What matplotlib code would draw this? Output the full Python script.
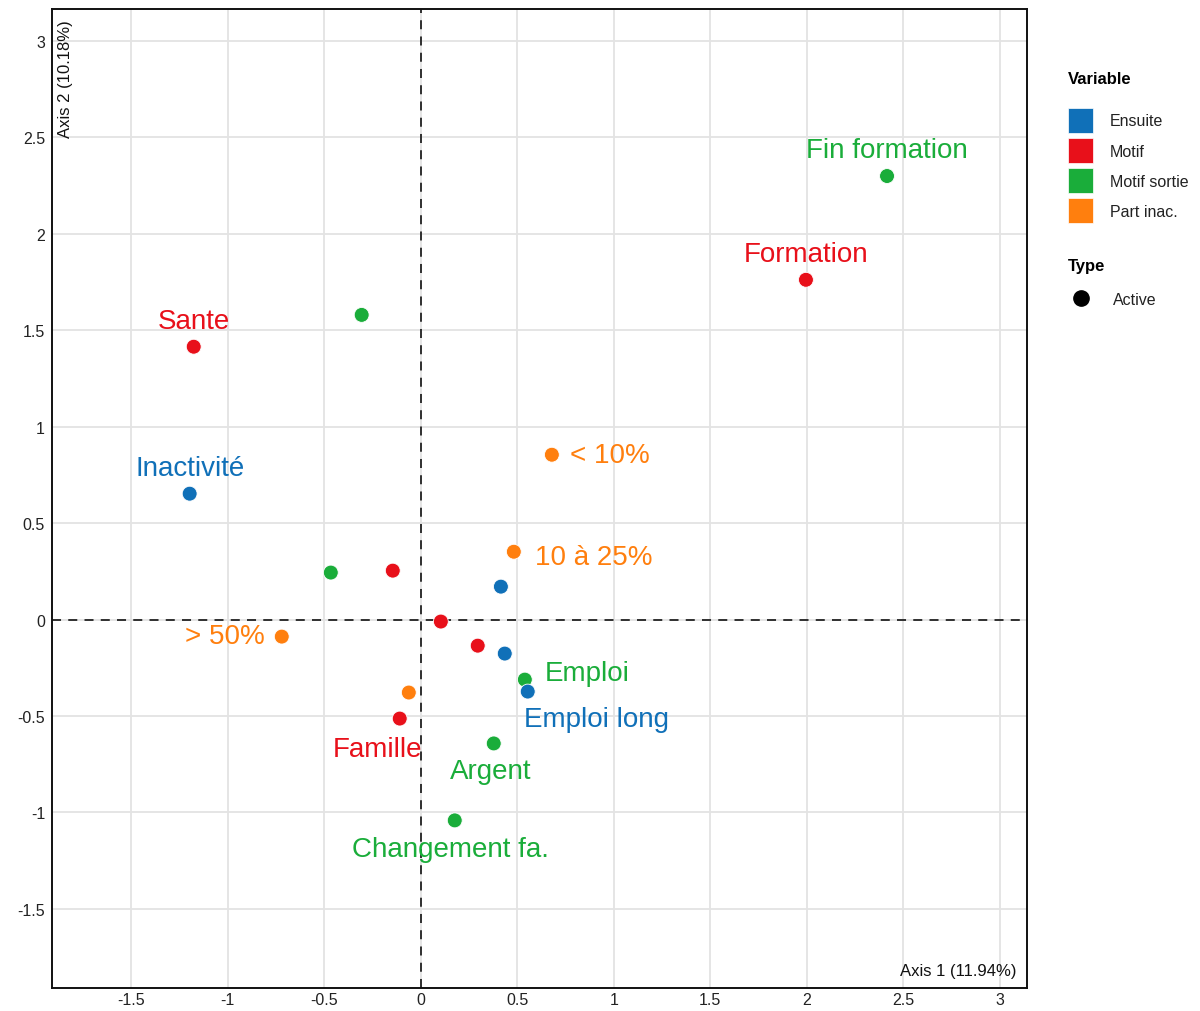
import matplotlib
matplotlib.use("Agg")
import matplotlib.pyplot as plt
from matplotlib.patches import Rectangle
from matplotlib.lines import Line2D

plt.rcParams['font.family'] = ['Liberation Sans', 'DejaVu Sans']

# ---- data ----
variables = ["Ensuite", "Motif", "Motif sortie", "Part inac."]
colors = {"Ensuite": "#1070B8", "Motif": "#E8101A", "Motif sortie": "#1AAD3A", "Part inac.": "#FF7F0E"}

pt_var = ["Motif sortie", "Motif", "Motif", "Motif sortie", "Ensuite", "Part inac.", "Part inac.",
          "Motif sortie", "Motif", "Ensuite", "Motif", "Part inac.", "Motif", "Ensuite",
          "Motif sortie", "Ensuite", "Part inac.", "Motif", "Motif sortie", "Motif sortie"]
pt_x = [2.415, 1.995, -1.176, -0.306, -1.197, 0.679, 0.482,
        -0.466, -0.145, 0.415, 0.104, -0.720, 0.295, 0.435,
        0.539, 0.554, -0.062, -0.109, 0.378, 0.176]
pt_y = [2.300, 1.762, 1.415, 1.580, 0.653, 0.855, 0.352,
        0.244, 0.254, 0.171, -0.010, -0.088, -0.135, -0.176,
        -0.311, -0.373, -0.378, -0.513, -0.642, -1.041]
pt_label = ["Fin formation", "Formation", "Sante", "", "Inactivité", "< 10%", "10 à 25%",
            "", "", "", "", "> 50%", "", "",
            "Emploi", "Emploi long", "", "Famille", "Argent", "Changement fa."]
ticks = [-1.5, -1, -0.5, 0, 0.5, 1, 1.5, 2, 2.5, 3]
tick_labels = ["-1.5", "-1", "-0.5", "0", "0.5", "1", "1.5", "2", "2.5", "3"]

# label placement (offset in pixels, ha)
label_pos = {
    "Fin formation": (0, 26, "center"),
    "Formation": (0, 26, "center"),
    "Sante": (0, 26, "center"),
    "Inactivité": (0, 26, "center"),
    "< 10%": (18, 0, "left"),
    "10 à 25%": (21, -5, "left"),
    "> 50%": (-17, 1, "right"),
    "Emploi": (20, 7, "left"),
    "Emploi long": (69, -27, "center"),
    "Famille": (-22, -30, "center"),
    "Argent": (-3, -28, "center"),
    "Changement fa.": (-4, -29, "center"),
}

fig = plt.figure(figsize=(12, 10.12), dpi=100)
ax = fig.add_axes([52/1200, 23/1012, 975/1200, 979/1012])

ax.set_xlim(-1.91, 3.14)
ax.set_ylim(-1.91, 3.166)
ax.set_xticks(ticks)
ax.set_xticklabels(tick_labels)
ax.set_yticks(ticks)
ax.set_yticklabels(tick_labels)
ax.grid(True, color="#E3E3E3", linewidth=1.3)
ax.set_axisbelow(True)
ax.tick_params(length=0, pad=5, labelsize=11.5, labelcolor="#222222")
ax.tick_params(axis="x", pad=3)
for s in ax.spines.values():
    s.set_linewidth(1.4)
    s.set_color("#111111")

ax.axhline(0, color="#222222", linestyle=(0, (5, 4)), linewidth=1.3, zorder=1)
ax.axvline(0, color="#222222", linestyle=(0, (5, 4)), linewidth=1.3, zorder=1)

ax.scatter(pt_x, pt_y, s=115, c=[colors[v] for v in pt_var], edgecolors="white",
           linewidths=0.6, zorder=3)

for x, y, v, lab in zip(pt_x, pt_y, pt_var, pt_label):
    if not lab:
        continue
    dx, dy, ha = label_pos[lab]
    ax.annotate(lab, (x, y), xytext=(dx * 0.72, dy * 0.72), textcoords="offset points",
                ha=ha, va="center", fontsize=20, color=colors[v], zorder=4)

ax.text(6/975, 1 - 10/979, "Axis 2 (10.18%)", transform=ax.transAxes, rotation=90,
        ha="left", va="top", fontsize=12, color="#111111")
ax.text(1 - 10/975, 10/979, "Axis 1 (11.94%)", transform=ax.transAxes,
        ha="right", va="bottom", fontsize=12, color="#111111")

# ---- legend (manual) ----
W, H = 1200, 1012
def fx(px):
    return px / W
def fy(py):
    return 1 - py / H

fig.text(fx(1068), fy(80), "Variable", fontsize=12, fontweight="bold", ha="left", va="center")
for i, v in enumerate(variables):
    yc = 121 + 30.3 * i
    fig.patches.append(Rectangle((fx(1068), fy(yc + 12.5)), 25/W, 25/H,
                                 transform=fig.transFigure, facecolor=colors[v],
                                 edgecolor="white", linewidth=0.5))
    fig.text(fx(1110), fy(yc + 1), v, fontsize=11.5, ha="left", va="center", color="#222222")
fig.text(fx(1068), fy(266), "Type", fontsize=12, fontweight="bold", ha="left", va="center")
fig.lines.append(Line2D([fx(1081)], [fy(299)], marker="o", markersize=11, color="black",
                        transform=fig.transFigure))
fig.text(fx(1113), fy(301), "Active", fontsize=11.5, ha="left", va="center", color="#222222")

fig.savefig("out.png", dpi=100, facecolor="white")
